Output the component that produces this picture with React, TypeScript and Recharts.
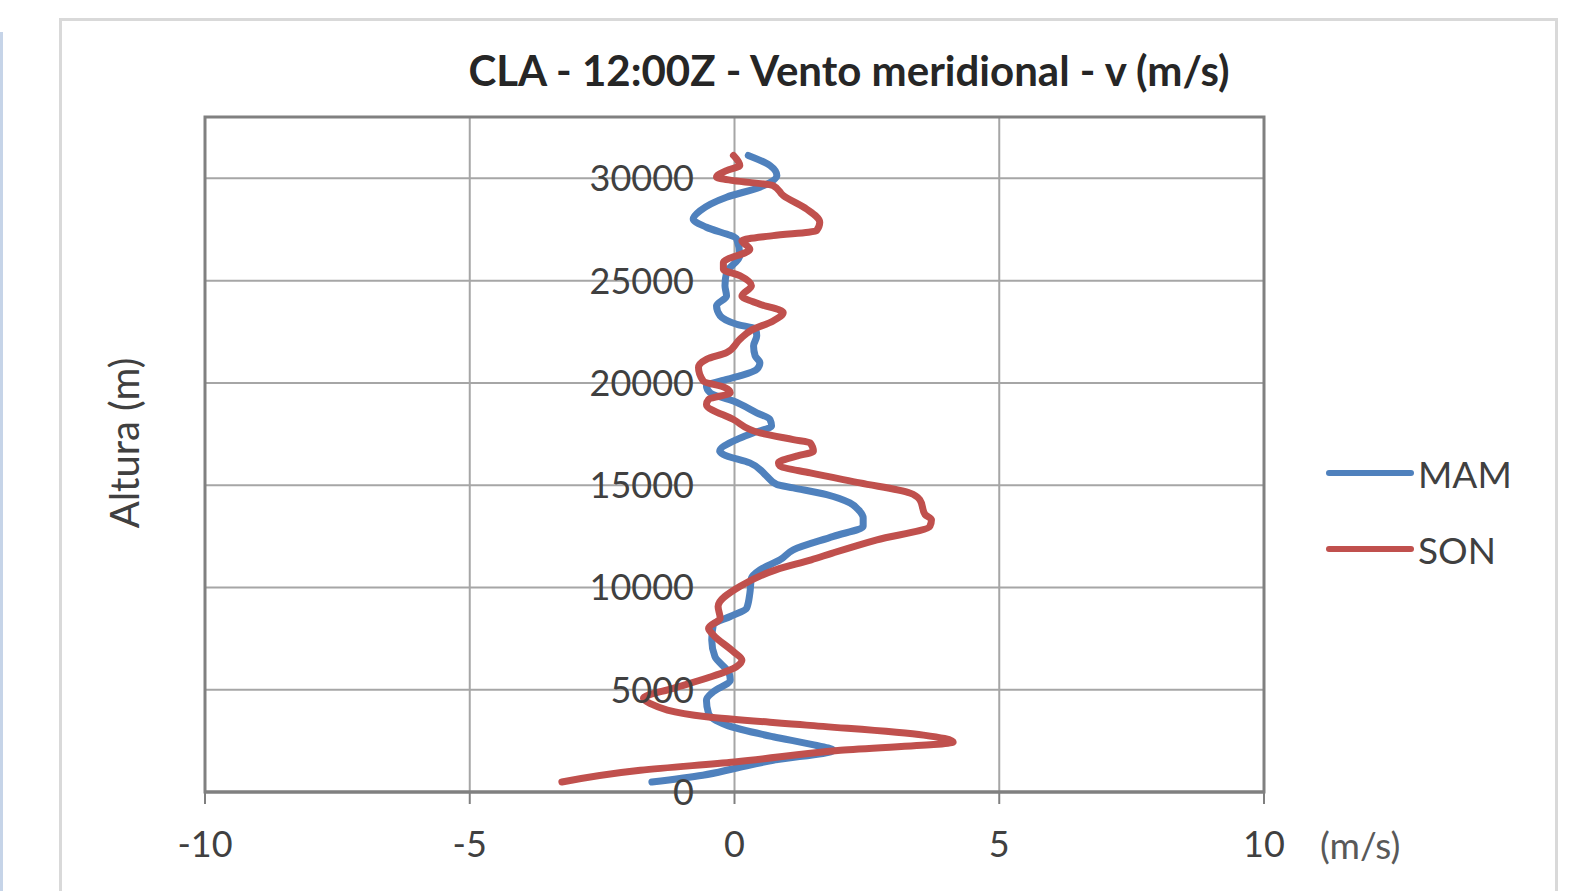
import { LineChart, Line, XAxis, YAxis, CartesianGrid, ReferenceArea, Legend } from "recharts"

// altitude (m) and meridional wind v (m/s)
const MAM_H = [490, 820, 1150, 1550, 2040, 2300, 2700, 3270, 3840, 4490, 4900, 5470, 5800, 6620, 7430, 8170, 8580, 8990, 9720, 10460, 10860, 11350, 11840, 12500, 12990, 13400, 13800, 14130, 14540, 14870, 15030, 15440, 16090, 16500, 16660, 17230, 17560, 17890, 18210, 18540, 19110, 19520, 19850, 20090, 20340, 20660, 20990, 21320, 21810, 22300, 22620, 22870, 23280, 23770, 24250, 24750, 25400, 26220, 27030, 27610, 28010, 28420, 29080, 29570, 30140, 30630, 31120]
const MAM_V = [-1.56, -0.6, 0.0, 0.73, 1.87, 1.5, 0.73, -0.15, -0.49, -0.53, -0.4, -0.08, -0.1, -0.37, -0.43, -0.4, -0.08, 0.23, 0.29, 0.32, 0.48, 0.86, 1.11, 1.87, 2.43, 2.43, 2.34, 2.18, 1.74, 1.11, 0.8, 0.61, 0.29, -0.21, -0.28, 0.04, 0.36, 0.7, 0.67, 0.42, -0.02, -0.46, -0.53, -0.27, 0.1, 0.42, 0.48, 0.39, 0.36, 0.42, 0.4, 0.04, -0.27, -0.34, -0.15, -0.18, -0.15, 0.1, 0.04, -0.53, -0.78, -0.65, -0.15, 0.48, 0.8, 0.67, 0.26]

const SON_H = [490, 1060, 1470, 2040, 2450, 2780, 3270, 3680, 4330, 4580, 5070, 5560, 6130, 6450, 6860, 7680, 8010, 8500, 9070, 10050, 10860, 11350, 11680, 12330, 12990, 13310, 13560, 14290, 14620, 15110, 15600, 15930, 16090, 16420, 16660, 17070, 17230, 17560, 18210, 18950, 19190, 19520, 19770, 20090, 20750, 21150, 21480, 22130, 22580, 23030, 23440, 23850, 24250, 24750, 25240, 25560, 25890, 26540, 26950, 27200, 27440, 27850, 28500, 29160, 29650, 29890, 30060, 30380, 30630, 31120]
const SON_V = [-3.26, -1.78, 0.0, 2.0, 4.13, 3.57, 1.36, -0.53, -1.6, -1.72, -1.16, -0.53, 0.04, 0.14, -0.02, -0.4, -0.49, -0.27, -0.31, 0.1, 0.78, 1.45, 1.85, 2.69, 3.69, 3.72, 3.6, 3.5, 3.31, 2.37, 1.43, 0.86, 0.83, 1.17, 1.49, 1.43, 1.11, 0.48, -0.02, -0.53, -0.49, -0.08, -0.18, -0.59, -0.68, -0.53, -0.15, 0.1, 0.32, 0.73, 0.92, 0.48, 0.14, 0.32, 0.1, -0.21, -0.21, 0.29, 0.14, 0.73, 1.55, 1.61, 1.36, 0.92, 0.73, -0.02, -0.34, -0.15, 0.1, -0.02]

const X_TICKS = [-10, -5, 0, 5, 10]
const Y_TICKS = [0, 5000, 10000, 15000, 20000, 25000, 30000]

const toRows = (hs: number[], vs: number[]) => hs.map((h, i) => ({ h, v: vs[i] }))
const mam = toRows(MAM_H, MAM_V)
const son = toRows(SON_H, SON_V)

const FONT = "Lato, 'Open Sans', sans-serif"
const TEXT = "#404040"

// altitude labels sit next to the v = 0 line, not at the left edge
const renderAltTick = (props: any) => {
  const { x, y, payload } = props
  return (
    <text key={payload.value} x={Number(x) + 489} y={y} dy="0.36em" textAnchor="end" fill={TEXT} fontSize={36} fontFamily={FONT}>
      {payload.value}
    </text>
  )
}

const LegendBox = (props: any) => (
  <div style={{ fontFamily: FONT, fontSize: 37, color: TEXT }}>
    {(props.payload || []).map((p: any) => (
      <div key={p.value} style={{ display: "flex", alignItems: "center", height: 76 }}>
        <svg width={88} height={10} style={{ marginRight: 4 }}>
          <line x1={3} y1={5} x2={85} y2={5} stroke={p.color} strokeWidth={6} strokeLinecap="round" />
        </svg>
        <span>{p.value}</span>
      </div>
    ))}
  </div>
)

export default function App() {
  return (
    <div style={{ position: "absolute", left: 0, top: 0, width: 1578, height: 891, overflow: "hidden", background: "#fff" }}>
      <div style={{ position: "absolute", left: 0, top: 32, width: 3, height: 900, background: "#c6d4e8" }} />
      <div style={{ position: "absolute", left: 59, top: 18, width: 1493, height: 900, border: "3px solid #d9d9d9", borderBottom: "none" }} />
      <div style={{ position: "absolute", left: 349, top: 44, width: 1000, textAlign: "center", fontFamily: FONT, fontWeight: 700, fontSize: 42, color: "#262626", lineHeight: "52px" }}>
        CLA - 12:00Z - Vento meridional - v (m/s)
      </div>
      <div style={{ position: "absolute", left: 124 - 150, top: 443 - 25, width: 300, height: 50, lineHeight: "50px", textAlign: "center", transform: "rotate(-90deg)", fontFamily: FONT, fontSize: 40, color: TEXT }}>
        Altura (m)
      </div>
      <div style={{ position: "absolute", left: 1320, top: 845 - 25, height: 50, lineHeight: "50px", fontFamily: FONT, fontSize: 37, color: "#595959" }}>
        (m/s)
      </div>
      <div style={{ position: "absolute", left: 0, top: 0 }}>
        <LineChart layout="vertical" width={1578} height={891} margin={{ top: 117, right: 314, bottom: 49, left: 204 }}>
          <CartesianGrid stroke="#a6a6a6" strokeWidth={2} />
          <XAxis
            type="number"
            domain={[-10, 10]}
            ticks={X_TICKS}
            allowDataOverflow
            height={50}
            tickSize={12}
            tickMargin={27}
            axisLine={{ stroke: "#808080", strokeWidth: 3 }}
            tickLine={{ stroke: "#808080", strokeWidth: 2 }}
            tick={{ fill: TEXT, fontSize: 36, fontFamily: FONT }}
          />
          <YAxis
            type="number"
            dataKey="h"
            domain={[0, 33000]}
            ticks={Y_TICKS}
            reversed
            allowDataOverflow
            interval={0}
            width={1}
            tickSize={0}
            tickMargin={0}
            axisLine={false}
            tickLine={false}
            tick={renderAltTick}
          />
          <ReferenceArea x1={-10} x2={10} y1={0} y2={33000} fill="none" stroke="#808080" strokeWidth={3} />
          <Legend
            layout="vertical"
            align="center"
            verticalAlign="middle"
            wrapperStyle={{ left: 1326, top: 435, width: 220 }}
            content={<LegendBox />}
          />
          <Line data={mam} dataKey="v" name="MAM" type="monotone" stroke="#4f81bd" strokeWidth={7} strokeLinecap="round" dot={false} isAnimationActive={false} />
          <Line data={son} dataKey="v" name="SON" type="monotone" stroke="#c0504d" strokeWidth={7} strokeLinecap="round" dot={false} isAnimationActive={false} />
        </LineChart>
      </div>
    </div>
  )
}
